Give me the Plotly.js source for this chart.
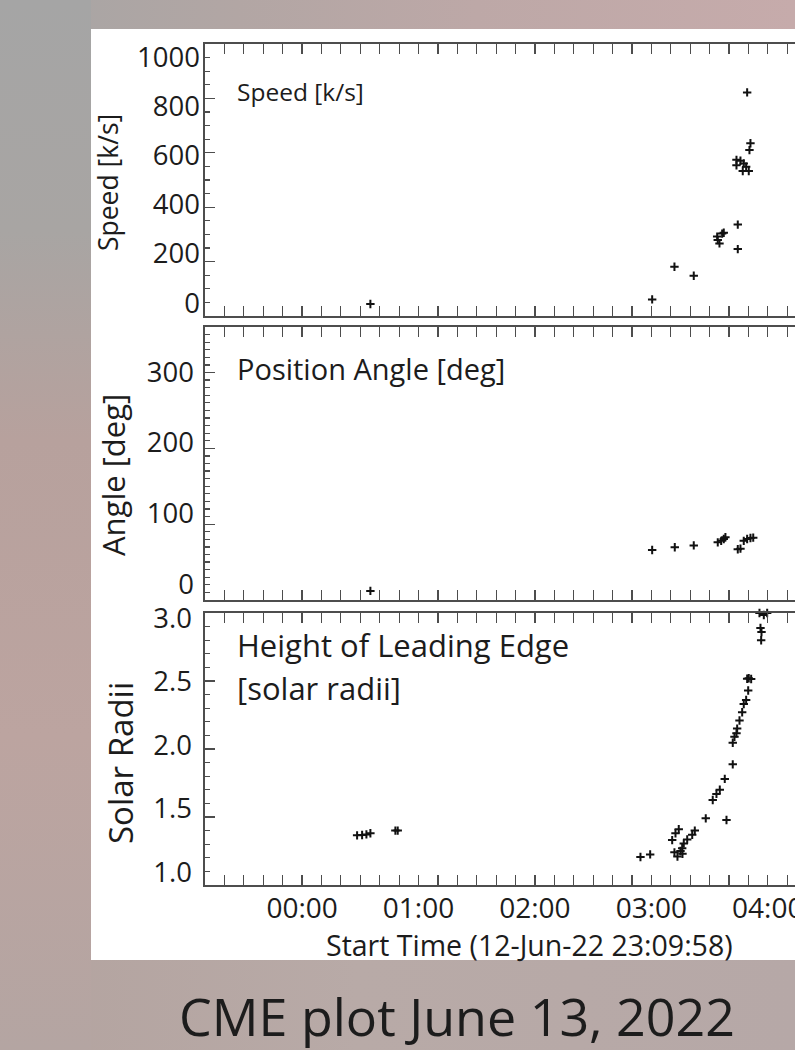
<!DOCTYPE html>
<html>
<head>
<meta charset="utf-8">
<script src="https://cdn.plot.ly/plotly-3.0.1.min.js"></script>
<style>
html,body{margin:0;padding:0;width:795px;height:1050px;overflow:hidden;}
body{
 background:
  linear-gradient(180deg, #a5a5a5 0%, #a8a5a3 22%, #b7a19d 42%, #bca4a0 70%, #b4a5a2 100%) left top / 91px 100% no-repeat,
  linear-gradient(90deg, #a6a5a4 0%, #b2a6a4 30%, #bda8a7 60%, #c6abab 100%) left top / 100% 29px no-repeat,
  linear-gradient(90deg, #b3a39f 0%, #b8aaa7 45%, #b6a8a7 100%);
}
#chart{position:absolute;left:0;top:0;width:1000px;height:1050px;}
</style>
</head>
<body>
<div id="chart"></div>
<script>
// ---- data (times are 13-Jun-2022, UT) ----
const speedTime = ['00:35:12','03:00:25','03:11:54','03:21:51','03:33:55','03:34:13','03:35:06','03:36:29','03:37:19',
  '03:43:52','03:43:52','03:44:32','03:44:32','03:45:55','03:47:06','03:47:37','03:48:51','03:49:22','03:50:12','03:50:33','03:51:04'];
const speedValue = [44,61,181,148,292,279,267,303,306,
  554,574,336,246,571,533,561,549,822,533,610,635];

const angleTime = ['00:35:12','03:00:25','03:12:04','03:21:51','03:34:13','03:35:59','03:37:19','03:38:10',
  '03:44:32','03:45:55','03:47:37','03:49:22','03:51:04','03:52:30'];
const angleValue = [12,66,69.5,72,76,78,80.5,82.7,67,67.7,78,80.5,81.8,82.2];

const heightTime = ['00:28:21','00:30:56','00:33:09','00:35:12','00:48:05','00:49:17',
  '02:54:23','02:59:23','03:10:44','03:11:54','03:12:26','03:13:27','03:14:07','03:15:00','03:15:53','03:16:02','03:16:42',
  '03:18:28','03:21:03','03:22:23',
  '03:28:02','03:31:38','03:33:33','03:35:16','03:37:50','03:38:43','03:41:57','03:41:57','03:42:50','03:43:52',
  '03:44:13','03:45:25','03:46:48','03:47:37','03:48:51','03:49:54','03:49:22','03:50:12','03:51:26',
  '03:55:43','03:56:14','03:56:46','03:56:35','03:57:57','03:59:41'];
const heightValue = [1.365,1.368,1.372,1.38,1.40,1.40,
  1.206,1.225,1.33,1.24,1.38,1.21,1.41,1.25,1.27,1.23,1.306,
  1.335,1.37,1.40,
  1.49,1.625,1.67,1.70,1.78,1.478,1.887,2.046,2.09,2.115,
  2.15,2.21,2.27,2.33,2.36,2.43,2.516,2.52,2.515,
  3.0,2.89,2.86,2.80,2.985,3.0];

const speedTicks = [0,200,400,600,800,1000];
const angleTicks = [0,100,200,300];
const heightTicks = [1.0,1.5,2.0,2.5,3.0];
const xTitle = 'Start Time (12-Jun-22 23:09:58)';
const chartTitle = 'CME plot June 13, 2022';
const panelLabels = ['Speed [k/s]','Position Angle [deg]','Height of Leading Edge','[solar radii]'];
const axisTitles = ['Speed [k/s]','Angle [deg]','Solar Radii'];

const DAY = '2022-06-13 ';
const toDate = a => a.map(t => DAY + t);

// ---- layout geometry ----
const W = 1000, H = 1050;
const px = v => v / W, py = v => 1 - v / H;
const FONT = '"Open Sans", "Noto Sans", sans-serif';
const INK = '#1c1c1c';
const LINE = '#4d4d4d';

const marker = {symbol:'cross-thin', size:6, color:'#111', line:{width:2, color:'#111'}};
function tr(x, y, xa, ya){
  return {type:'scatter', mode:'markers', x:toDate(x), y:y, xaxis:xa, yaxis:ya,
    marker:marker, hoverinfo:'x+y', showlegend:false, cliponaxis:false};
}
const data = [
  tr(speedTime, speedValue, 'x', 'y'),
  tr(angleTime, angleValue, 'x2', 'y2'),
  tr(heightTime, heightValue, 'x3', 'y3'),
  {type:'scatter', x:[], y:[], xaxis:'x', yaxis:'y4', showlegend:false, hoverinfo:'skip'},
  {type:'scatter', x:[], y:[], xaxis:'x2', yaxis:'y5', showlegend:false, hoverinfo:'skip'},
  {type:'scatter', x:[], y:[], xaxis:'x3', yaxis:'y6', showlegend:false, hoverinfo:'skip'}
];

// 23:09:58 at x=205 px, 116.4 px per hour -> 04:30 at ~826 px
const xRange = ['2022-06-12 23:09:58', '2022-06-13 04:30:00'];
function xax(anchor, labels){
  return {
    anchor:anchor, domain:[px(205), px(826)], range:xRange, type:'date',
    tick0:'2022-06-13 00:00:00', dtick:3600000, tickformat:'%H:%M',
    ticks:'inside', ticklen:10, tickwidth:1.3, tickcolor:LINE,
    minor:{dtick:600000, ticks:'inside', ticklen:5, tickwidth:1.2, tickcolor:LINE},
    showline:true, linecolor:LINE, linewidth:1.6, mirror:'allticks',
    showgrid:false, zeroline:false, showticklabels:labels,
    tickfont:{family:FONT, size:28, color:INK}, ticklabelstandoff:-2
  };
}
function yax(anchor, dom, range, dtick, minor){
  return {
    anchor:anchor, domain:dom, range:range, dtick:dtick, tick0:0,
    ticks:'inside', ticklen:10, tickwidth:1.3, tickcolor:LINE,
    minor:{dtick:minor, ticks:'inside', ticklen:5, tickwidth:1.2, tickcolor:LINE},
    showline:true, linecolor:LINE, linewidth:1.6, mirror:'allticks',
    showgrid:false, zeroline:false, showticklabels:false
  };
}
function ylab(over, anchor, range, vals, fmt, standoff){
  return {
    overlaying:over, anchor:anchor, range:range, tickmode:'array', tickvals:vals,
    tickformat:fmt, ticks:'', showline:false, showgrid:false, zeroline:false,
    side:'left', tickfont:{family:FONT, size:27.5, color:INK}, ticklabelstandoff:standoff
  };
}

const dS = [py(316), py(44)], dA = [py(600), py(327)], dH = [py(885), py(613)];

const ann = [];
function addText(text, x, y, size, opts){
  ann.push(Object.assign({text:text, xref:'paper', yref:'paper', x:px(x), y:py(y),
    showarrow:false, font:{family:FONT, size:size, color:INK}}, opts||{}));
}
addText(panelLabels[0], 235, 92, 24.5, {xanchor:'left', yanchor:'middle'});
addText(panelLabels[1], 235, 368, 29, {xanchor:'left', yanchor:'middle'});
addText(panelLabels[2], 235, 645, 31, {xanchor:'left', yanchor:'middle'});
addText(panelLabels[3], 235, 688, 31, {xanchor:'left', yanchor:'middle'});
addText(axisTitles[0], 108, 183, 26.5, {textangle:-90, xanchor:'center', yanchor:'middle'});
addText(axisTitles[1], 113, 475, 31, {textangle:-90, xanchor:'center', yanchor:'middle'});
addText(axisTitles[2], 120, 763, 33, {textangle:-90, xanchor:'center', yanchor:'middle'});
addText(xTitle, 529, 945, 28.5, {xanchor:'center', yanchor:'middle'});
addText(chartTitle, 457, 1015, 52, {xanchor:'center', yanchor:'middle'});

const layout = {
  width:W, height:H, margin:{l:0, r:0, t:0, b:0},
  paper_bgcolor:'rgba(0,0,0,0)', plot_bgcolor:'#ffffff',
  showlegend:false,
  xaxis: xax('y', false),
  xaxis2: xax('y2', false),
  xaxis3: xax('y3', true),
  yaxis: yax('x', dS, [0,1000], 200, 50),
  yaxis2: yax('x2', dA, [0,360], 100, 10),
  yaxis3: yax('x3', dH, [1,3], 0.5, 0.1),
  yaxis4: ylab('y', 'x', [-53,1053], speedTicks, 'd', 4),
  yaxis5: ylab('y2', 'x2', [-22.6,363.7], angleTicks, 'd', 10),
  yaxis6: ylab('y3', 'x3', [0.898,3.039], heightTicks, '.1f', 12),
  shapes:[{type:'rect', xref:'paper', yref:'paper', x0:px(91), x1:1.2, y0:py(960), y1:py(29),
    fillcolor:'#ffffff', line:{width:0}, layer:'below'}],
  annotations: ann
};

Plotly.newPlot('chart', data, layout, {staticPlot:true, displayModeBar:false});
</script>
</body>
</html>
